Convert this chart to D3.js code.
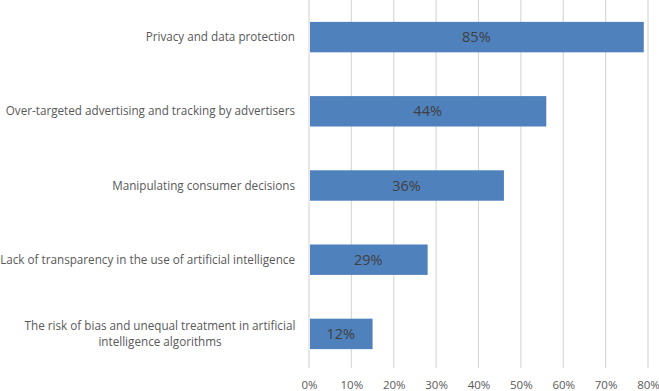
<!DOCTYPE html>
<html>
<head>
<meta charset="utf-8">
<script src="https://cdn.jsdelivr.net/npm/d3@7"></script>
<style>
  body { margin: 0; background: #fff; }
  svg { display: block; font-family: "Open Sans", sans-serif; }
</style>
</head>
<body>
<div id="chart"></div>
<script>
// categories, top to bottom
const categories = [
	"Privacy and data protection",
	"Over-targeted advertising and tracking by advertisers",
	"Manipulating consumer decisions",
	"Lack of transparency in the use of artificial intelligence",
	"The risk of bias and unequal treatment in artificial intelligence algorithms"
];
// bar lengths as drawn (fraction of axis)
const barValues = [0.79, 0.56, 0.46, 0.28, 0.15];
// labels printed inside the bars
const barLabels = ["85%", "44%", "36%", "29%", "12%"];
const xTicks = [0, 0.1, 0.2, 0.3, 0.4, 0.5, 0.6, 0.7, 0.8];

const params = {
		width: 659,
		height: 391,
		left: 309,
		right: 648,
		top: 0,
		bottom: 371,
		bar_color: "#4f81bd",
		grid_color: "#d9d9d9",
		text_color: "#595959"
	},
	svg = d3.select('#chart').append('svg')
		.attr('width', params.width)
		.attr('height', params.height);

const x = d3.scaleLinear().domain([0, 0.8]).range([params.left, params.right]),
	y = d3.scaleBand().domain(categories).range([params.top, params.bottom]).paddingInner(0.59).paddingOuter(0.295);

// vertical gridlines
svg.append('g')
	.selectAll('line')
	.data(xTicks)
	.join('line')
	.attr('x1', d => x(d))
	.attr('x2', d => x(d))
	.attr('y1', params.top)
	.attr('y2', 368)
	.attr('stroke', params.grid_color)
	.attr('stroke-width', 1.2);

// x axis labels
const xAxis = svg.append('g')
	.attr('transform', `translate(0,${params.bottom})`)
	.call(d3.axisBottom(x).tickValues(xTicks).tickFormat(d3.format('.0%')).tickSize(0).tickPadding(10));
xAxis.select('.domain').remove();
xAxis.selectAll('text')
	.attr('fill', params.text_color)
	.style('font-size', '11.5px')
	.style('font-family', '"Open Sans", sans-serif');

// bars
svg.append('g')
	.selectAll('rect')
	.data(categories)
	.join('rect')
	.attr('x', x(0) + 1)
	.attr('y', d => y(d))
	.attr('width', (d, i) => x(barValues[i]) - x(0) - 1)
	.attr('height', y.bandwidth())
	.attr('fill', params.bar_color);

// value labels inside bars
svg.append('g')
	.selectAll('text')
	.data(categories)
	.join('text')
	.attr('x', (d, i) => (x(0) + x(barValues[i])) / 2)
	.attr('y', d => y(d) + y.bandwidth() / 2)
	.attr('dy', '0.35em')
	.attr('text-anchor', 'middle')
	.attr('fill', '#404040')
	.style('font-size', '14.5px')
	.text((d, i) => barLabels[i]);

// category labels, last one wraps onto two lines
const labelX = 295;
svg.append('g')
	.selectAll('text')
	.data(categories)
	.join('text')
	.attr('fill', params.text_color)
	.style('font-size', '11.7px')
	.each(function(d, i) {
		const t = d3.select(this),
			cy = y(d) + y.bandwidth() / 2;
		if (i === categories.length - 1) {
			const lines = ["The risk of bias and unequal treatment in artificial", "intelligence algorithms"];
			t.attr('text-anchor', 'middle');
			lines.forEach((ln, k) => {
				t.append('tspan')
					.attr('x', 160)
					.attr('y', cy + (k === 0 ? -8 : 8))
					.attr('dy', '0.35em')
					.text(ln);
			});
		} else {
			t.attr('text-anchor', 'end')
				.attr('x', labelX)
				.attr('y', cy)
				.attr('dy', '0.35em')
				.text(d);
		}
	});
</script>
</body>
</html>
